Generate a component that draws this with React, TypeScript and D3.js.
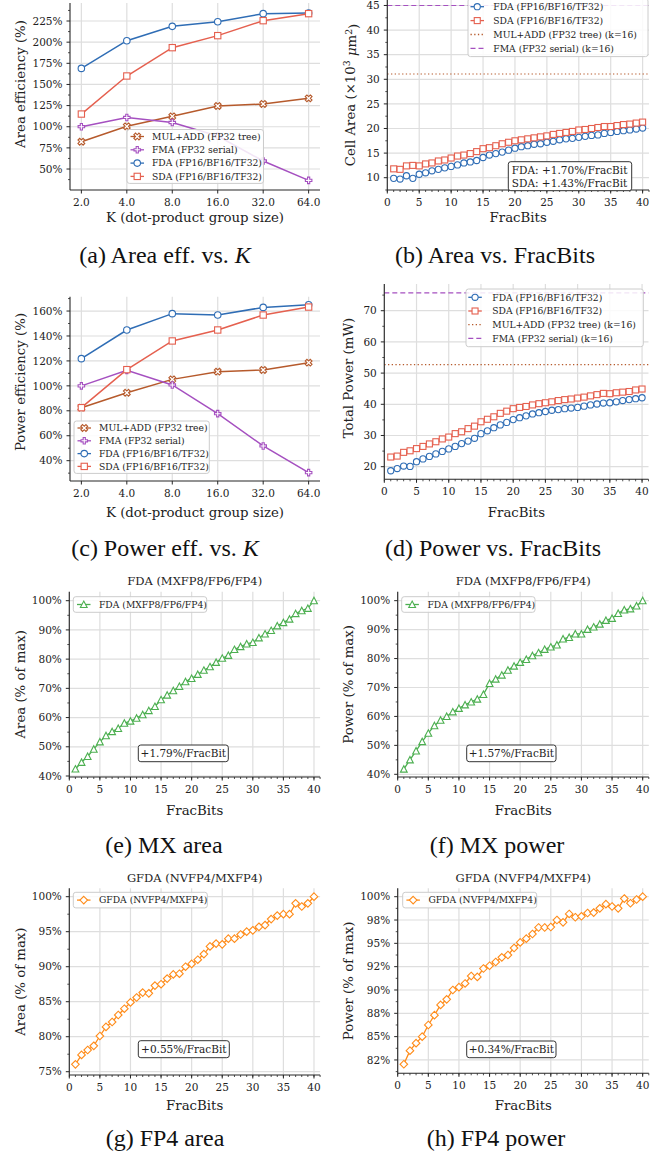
import React from "react";
import * as d3 from "d3";

// ---------------- DATA ----------------
const K_VALUES = [2, 4, 8, 16, 32, 64];
const K_TICK_LABELS = ["2.0", "4.0", "8.0", "16.0", "32.0", "64.0"];

const AREA_EFF_MULADD = [82.3, 100.5, 112.3, 124.5, 126.9, 133.6];
const AREA_EFF_FMA = [100, 111, 105, 89, 59.5, 36.6];
const AREA_EFF_FDA = [169, 201.7, 218.7, 224.2, 233.7, 234.5];
const AREA_EFF_SDA = [115, 160, 193.5, 207.7, 225.4, 233.7];

const POWER_EFF_MULADD = [82.5, 94.5, 105.2, 111.4, 112.7, 118.6];
const POWER_EFF_FMA = [100, 112.4, 100.7, 77.7, 51.8, 30.4];
const POWER_EFF_FDA = [121.8, 144.8, 157.9, 156.8, 162.9, 165.1];
const POWER_EFF_SDA = [82.5, 113, 136, 144.8, 156.8, 163.2];

const FRAC_BITS = [1, 2, 3, 4, 5, 6, 7, 8, 9, 10, 11, 12, 13, 14, 15, 16, 17, 18, 19, 20,
  21, 22, 23, 24, 25, 26, 27, 28, 29, 30, 31, 32, 33, 34, 35, 36, 37, 38, 39, 40];

const CELL_AREA_FDA = [9.87, 9.73, 10.4, 9.87, 10.7, 11.0, 11.4, 11.7, 12.0, 12.3, 12.6, 13.0, 13.2, 13.5,
  14.1, 14.6, 14.9, 15.2, 15.6, 16.0, 16.3, 16.5, 16.8, 16.9, 17.2, 17.4, 17.7, 17.9, 18.0, 18.2, 18.4,
  18.6, 18.7, 19.0, 19.2, 19.4, 19.55, 19.7, 19.9, 20.1];
const CELL_AREA_SDA = [11.8, 11.7, 12.4, 12.5, 12.4, 12.8, 13.0, 13.4, 13.6, 14.0, 14.4, 14.6, 14.9, 15.3,
  15.9, 16.1, 16.5, 16.9, 17.2, 17.5, 17.7, 17.9, 18.1, 18.3, 18.5, 18.8, 19.0, 19.2, 19.4, 19.7, 19.8,
  20.0, 20.2, 20.4, 20.4, 20.6, 20.8, 20.9, 21.1, 21.3];
const CELL_AREA_MULADD_K16 = 31.07;
const CELL_AREA_FMA_K16 = 45.0;

const POWER_FDA = [18.7, 19.4, 20.2, 20.1, 21.6, 22.5, 23.3, 24.1, 24.9, 25.7, 26.5, 27.4, 28.2, 29.1,
  30.6, 31.5, 32.5, 33.4, 34.2, 35.1, 35.7, 36.3, 36.9, 37.3, 37.7, 38.1, 38.3, 38.6, 38.8, 39.0, 39.4,
  39.8, 40.1, 40.4, 40.5, 40.8, 41.2, 41.5, 41.8, 42.1];
const POWER_SDA = [23.1, 23.4, 24.6, 25.1, 25.8, 26.5, 27.3, 28.0, 28.9, 29.5, 30.6, 31.2, 32.2, 33.0,
  34.4, 35.2, 36.0, 37.1, 37.8, 38.6, 39.0, 39.3, 39.8, 40.2, 40.5, 40.8, 41.2, 41.5, 41.7, 42.0, 42.3,
  42.7, 43.1, 43.5, 43.4, 43.7, 43.9, 44.1, 44.6, 44.9];
const POWER_MULADD_K16 = 52.7;
const POWER_FMA_K16 = 75.7;

const MX_AREA = [42.4, 44.7, 46.7, 49.2, 51.7, 53.8, 55.2, 56.3, 58.1, 58.8, 59.8, 61.0, 62.4, 63.8,
  66.1, 67.7, 69.2, 70.7, 72.3, 73.4, 74.8, 76.2, 77.4, 78.9, 80.3, 81.3, 83.3, 84.3, 85.2, 85.7, 87.3,
  88.6, 89.8, 91.4, 92.5, 93.7, 95.6, 96.6, 97.4, 100.0];
const MX_POWER = [41.8, 45.0, 48.1, 51.3, 54.2, 56.8, 58.7, 60.0, 61.6, 62.8, 64.0, 65.0, 66.0, 67.6,
  71.4, 72.9, 74.3, 76.0, 77.4, 78.7, 79.7, 81.0, 82.0, 83.2, 84.0, 84.7, 86.8, 87.3, 88.5, 88.5, 90.1,
  90.9, 91.9, 93.2, 93.9, 95.6, 96.8, 97.2, 98.2, 100.0];
const FP4_AREA = [76.05, 77.4, 78.1, 78.7, 80.1, 81.4, 82.1, 83.1, 84.0, 84.9, 85.6, 86.3, 86.2, 87.3,
  87.5, 88.3, 88.9, 89.0, 90.0, 90.4, 91.0, 91.8, 92.9, 93.3, 93.2, 94.0, 94.0, 94.6, 95.0, 95.2, 95.7,
  95.95, 96.8, 97.3, 97.5, 97.5, 99.05, 98.6, 99.05, 100];
const FP4_POWER = [82.04, 83.5, 84.3, 85.0, 86.25, 87.3, 88.4, 89.0, 90.0, 90.3, 90.7, 91.5, 91.4, 92.3,
  92.6, 93.0, 93.5, 93.75, 94.5, 95.1, 95.5, 96.0, 96.7, 96.7, 96.75, 97.5, 97.25, 98.15, 97.8, 97.9,
  98.25, 98.3, 98.75, 99.2, 98.95, 98.75, 99.8, 99.3, 99.7, 100];

const AREA_EFF_TICKS = [50, 75, 100, 125, 150, 175, 200, 225];
const POWER_EFF_TICKS = [40, 60, 80, 100, 120, 140, 160];
const CELL_AREA_TICKS = [10, 15, 20, 25, 30, 35, 40, 45];
const POWER_TICKS = [20, 30, 40, 50, 60, 70];
const FRAC_TICKS = [0, 5, 10, 15, 20, 25, 30, 35, 40];
const MX_TICKS = [40, 50, 60, 70, 80, 90, 100];
const FP4_AREA_TICKS = [75, 80, 85, 90, 95, 100];
const FP4_POWER_TICKS = [82.5, 85, 87.5, 90, 92.5, 95, 97.5, 100];
const FP4_POWER_TICK_LABELS = ["82%", "85%", "88%", "90%", "92%", "95%", "98%", "100%"];

// ---------------- STYLE ----------------
const FONT = "'DejaVu Serif', serif";
const CAPTION_FONT = "'Liberation Serif', 'Times New Roman', serif";
const C = {
  mulAdd: "#b65a2c",
  fma: "#a550c0",
  fda: "#2f6db5",
  sda: "#e5604f",
  mx: "#4caf50",
  fp4: "#ff8c1a",
};
const GRID = "#dedede";
const SPINE = "#262626";
const TICK_FS = 10.5;
const LABEL_FS = 13.3;
const LEGEND_FS = 9.2;
const CAPTION_FS = 24;

type MarkerShape = "circle" | "square" | "triangle" | "diamond" | "plus" | "xfill";

const PLUS_PTS = [[-1, -3], [1, -3], [1, -1], [3, -1], [3, 1], [1, 1], [1, 3], [-1, 3], [-1, 1], [-3, 1], [-3, -1], [-1, -1]];

function Marker({ shape, x, y, color, size }: { shape: MarkerShape; x: number; y: number; color: string; size: number }) {
  const sw = 1.1;
  const s = size / 2;
  if (shape === "circle") return <circle cx={x} cy={y} r={s} fill="white" stroke={color} strokeWidth={sw} />;
  if (shape === "square") return <rect x={x - s} y={y - s} width={size} height={size} fill="white" stroke={color} strokeWidth={sw} />;
  if (shape === "triangle") return <path d={`M${x},${y - s}L${x + s},${y + s * 0.9}L${x - s},${y + s * 0.9}Z`} fill="white" stroke={color} strokeWidth={sw} />;
  if (shape === "diamond") return <path d={`M${x},${y - s}L${x + s},${y}L${x},${y + s}L${x - s},${y}Z`} fill="white" stroke={color} strokeWidth={sw} />;
  const rot = shape === "xfill" ? Math.PI / 4 : 0;
  const k = shape === "xfill" ? 1.2 : 1;
  const pts = PLUS_PTS.map(([a, b]) => {
    const px = (a / 6) * size * k;
    const py = (b / 6) * size * k;
    return [x + px * Math.cos(rot) - py * Math.sin(rot), y + px * Math.sin(rot) + py * Math.cos(rot)];
  });
  return <path d={"M" + pts.map((p) => p.join(",")).join("L") + "Z"} fill="white" stroke={color} strokeWidth={sw} />;
}

type Series = { xs: number[]; ys: number[]; color: string; marker: MarkerShape; size: number; lw: number };
type LegendItem = { label: string; color: string; marker?: MarkerShape; size?: number; dash?: string };

type PanelCfg = {
  frame: { x0: number; x1: number; y0: number; y1: number };
  xScale: any;
  yScale: any;
  xTicks: number[];
  xTickLabels: string[];
  xMinor: number[];
  yTicks: number[];
  yTickLabels: string[];
  yMinor: number[];
  xLabel: string;
  yLabel: React.ReactNode;
  yLabelX: number;
  yLabelY?: number;
  xLabelY: number;
  title?: string;
  titleY?: number;
  series: Series[];
  refLines?: { y: number; color: string; dash: string }[];
  legend: { x: number; y: number; w: number; rowH: number; first: number; items: LegendItem[]; handleOff: number; textOff: number };
  note: { x: number; y: number; w: number; h: number; lines: string[]; align: "start" | "middle" };
  caption: React.ReactNode;
  captionX: number;
  captionY: number;
};

function Panel({ cfg }: { cfg: PanelCfg }) {
  const { frame, xScale, yScale } = cfg;
  const { x0, x1, y0, y1 } = frame;
  const line = (s: Series) =>
    d3.line<number>().x((_, i) => xScale(s.xs[i])).y((v) => yScale(v))(s.ys) || "";
  const lg = cfg.legend;
  const lgH = lg.first * 2 + lg.rowH * (lg.items.length - 1);
  const yLabelY = cfg.yLabelY ?? (y0 + y1) / 2;
  return (
    <g>
      {cfg.xTicks.map((t, i) => (
        <line key={"gx" + i} x1={xScale(t)} x2={xScale(t)} y1={y0} y2={y1} stroke={GRID} strokeWidth={1.2} />
      ))}
      {cfg.yTicks.map((t, i) => (
        <line key={"gy" + i} x1={x0} x2={x1} y1={yScale(t)} y2={yScale(t)} stroke={GRID} strokeWidth={1.2} />
      ))}
      {(cfg.refLines || []).map((r, i) => (
        <line key={"r" + i} x1={x0} x2={x1} y1={yScale(r.y)} y2={yScale(r.y)} stroke={r.color} strokeWidth={1.2} strokeDasharray={r.dash} />
      ))}
      {cfg.series.map((s, si) => (
        <g key={"s" + si}>
          <path d={line(s)} fill="none" stroke={s.color} strokeWidth={s.lw} />
          {s.ys.map((v, i) => (
            <Marker key={i} shape={s.marker} x={xScale(s.xs[i])} y={yScale(v)} color={s.color} size={s.size} />
          ))}
        </g>
      ))}
      <line x1={x0} x2={x0} y1={y0} y2={y1} stroke={SPINE} strokeWidth={1.1} />
      <line x1={x0} x2={x1} y1={y1} y2={y1} stroke={SPINE} strokeWidth={1.1} />
      {cfg.xTicks.map((t, i) => (
        <g key={"tx" + i}>
          <line x1={xScale(t)} x2={xScale(t)} y1={y1} y2={y1 + 3.5} stroke={SPINE} strokeWidth={1} />
          <text x={xScale(t)} y={y1 + 16} textAnchor="middle" fontSize={TICK_FS} fontFamily={FONT} fill="#222">
            {cfg.xTickLabels[i]}
          </text>
        </g>
      ))}
      {cfg.xMinor.map((t, i) => (
        <line key={"mx" + i} x1={xScale(t)} x2={xScale(t)} y1={y1} y2={y1 + 2} stroke={SPINE} strokeWidth={0.8} />
      ))}
      {cfg.yTicks.map((t, i) => (
        <g key={"ty" + i}>
          <line x1={x0 - 3.5} x2={x0} y1={yScale(t)} y2={yScale(t)} stroke={SPINE} strokeWidth={1} />
          <text x={x0 - 7.5} y={yScale(t)} dy="0.35em" textAnchor="end" fontSize={TICK_FS} fontFamily={FONT} fill="#222">
            {cfg.yTickLabels[i]}
          </text>
        </g>
      ))}
      {cfg.yMinor.map((t, i) => (
        <line key={"my" + i} x1={x0 - 2} x2={x0} y1={yScale(t)} y2={yScale(t)} stroke={SPINE} strokeWidth={0.8} />
      ))}
      <text x={(x0 + x1) / 2} y={cfg.xLabelY} dy="0.35em" textAnchor="middle" fontSize={LABEL_FS} fontFamily={FONT} fill="#222">
        {cfg.xLabel}
      </text>
      <text
        transform={`translate(${cfg.yLabelX},${yLabelY}) rotate(-90)`}
        dy="0.35em"
        textAnchor="middle"
        fontSize={LABEL_FS}
        fontFamily={FONT}
        fill="#222"
      >
        {cfg.yLabel}
      </text>
      {cfg.title && (
        <text x={(x0 + x1) / 2} y={cfg.titleY} dy="0.35em" textAnchor="middle" fontSize={11.5} fontFamily={FONT} fill="#222">
          {cfg.title}
        </text>
      )}
      <rect x={lg.x} y={lg.y} width={lg.w} height={lgH} rx={2.5} fill="white" fillOpacity={0.85} stroke="#cccccc" strokeWidth={1} />
      {lg.items.map((it, i) => {
        const yy = lg.y + lg.first + i * lg.rowH;
        const hx0 = lg.x + lg.handleOff;
        const hx1 = hx0 + 13.5;
        return (
          <g key={"lg" + i}>
            <line x1={hx0} x2={hx1} y1={yy} y2={yy} stroke={it.color} strokeWidth={1.3} strokeDasharray={it.dash} />
            {it.marker && <Marker shape={it.marker} x={(hx0 + hx1) / 2} y={yy} color={it.color} size={it.size || 6} />}
            <text x={lg.x + lg.textOff} y={yy} dy="0.35em" fontSize={LEGEND_FS} fontFamily={FONT} fill="#222">
              {it.label}
            </text>
          </g>
        );
      })}
      {cfg.note.lines.length > 0 && (
        <rect x={cfg.note.x} y={cfg.note.y} width={cfg.note.w} height={cfg.note.h} rx={2.5} fill="white" stroke="#333" strokeWidth={1} />
      )}
      {cfg.note.lines.map((l, i) => (
        <text
          key={"n" + i}
          x={cfg.note.align === "middle" ? cfg.note.x + cfg.note.w / 2 : cfg.note.x + 3.5}
          y={cfg.note.y + (cfg.note.lines.length === 1 ? cfg.note.h / 2 : 8.5 + i * 12.7)}
          dy="0.35em"
          textAnchor={cfg.note.align}
          fontSize={10.5}
          fontFamily={FONT}
          fill="#222"
        >
          {l}
        </text>
      ))}
      <text x={cfg.captionX} y={cfg.captionY} dy="0.35em" textAnchor="middle" fontSize={CAPTION_FS} fontFamily={CAPTION_FONT} fill="#111">
        {cfg.caption}
      </text>
    </g>
  );
}

const pct = (v: number) => `${v}%`;
const midpoints = (t: number[]) => {
  const out: number[] = [];
  for (let i = 0; i < t.length - 1; i++) out.push((t[i] + t[i + 1]) / 2);
  out.push(t[0] - (t[1] - t[0]) / 2);
  out.push(t[t.length - 1] + (t[1] - t[0]) / 2);
  return out;
};
const fracMinor = d3.range(0, 42, 1);

function makeLinX(x0: number, x1: number) {
  return d3.scaleLinear().domain([0, 41]).range([x0, x1]);
}
function makeY(domain: [number, number], y0: number, y1: number) {
  return d3.scaleLinear().domain(domain).range([y1, y0]);
}
function clipMinor(minor: number[], scale: any, y0: number, y1: number) {
  return minor.filter((m) => scale(m) >= y0 - 0.5 && scale(m) <= y1 + 0.5);
}

const NO_NOTE = { x: 0, y: 0, w: 0, h: 0, lines: [] as string[], align: "start" as const };

function buildPanels(): PanelCfg[] {
  const panels: PanelCfg[] = [];
  const effLegend = (x: number, y: number, w: number, rowH: number): PanelCfg["legend"] => ({
    x, y, w, rowH, first: 7, handleOff: 3.5, textOff: 25,
    items: [
      { label: "MUL+ADD (FP32 tree)", color: C.mulAdd, marker: "xfill", size: 6 },
      { label: "FMA (FP32 serial)", color: C.fma, marker: "plus", size: 6.5 },
      { label: "FDA (FP16/BF16/TF32)", color: C.fda, marker: "circle", size: 6.5 },
      { label: "SDA (FP16/BF16/TF32)", color: C.sda, marker: "square", size: 6.3 },
    ],
  });
  const effSeries = (a: number[], b: number[], c: number[], d: number[]): Series[] => [
    { xs: K_VALUES, ys: a, color: C.mulAdd, marker: "xfill", size: 6, lw: 1.5 },
    { xs: K_VALUES, ys: b, color: C.fma, marker: "plus", size: 6.5, lw: 1.5 },
    { xs: K_VALUES, ys: c, color: C.fda, marker: "circle", size: 6.5, lw: 1.5 },
    { xs: K_VALUES, ys: d, color: C.sda, marker: "square", size: 6.3, lw: 1.5 },
  ];

  // (a)
  {
    const frame = { x0: 70, x1: 320, y0: 3, y1: 190 };
    const xs = d3.scaleLog().base(2).domain([2 ** 0.75, 2 ** 6.25]).range([frame.x0, frame.x1]);
    const ys = makeY([25.2, 246.3], frame.y0, frame.y1);
    panels.push({
      frame, xScale: xs, yScale: ys,
      xTicks: K_VALUES, xTickLabels: K_TICK_LABELS, xMinor: [],
      yTicks: AREA_EFF_TICKS, yTickLabels: AREA_EFF_TICKS.map(pct), yMinor: clipMinor(midpoints(AREA_EFF_TICKS), ys, frame.y0, frame.y1),
      xLabel: "K (dot-product group size)", yLabel: "Area efficiency (%)", yLabelX: 20, yLabelY: 84, xLabelY: 217,
      series: effSeries(AREA_EFF_MULADD, AREA_EFF_FMA, AREA_EFF_FDA, AREA_EFF_SDA),
      legend: effLegend(127, 129.5, 136.5, 13.3),
      note: NO_NOTE,
      caption: <>(a) Area eff. vs. <tspan fontStyle="italic">K</tspan></>, captionX: 165, captionY: 255,
    });
  }
  // (b)
  {
    const frame = { x0: 387.3, x1: 649, y0: -5, y1: 190 };
    const xs = makeLinX(frame.x0, frame.x1);
    const ys = makeY([7.5, 47.13], frame.y0, frame.y1);
    panels.push({
      frame, xScale: xs, yScale: ys,
      xTicks: FRAC_TICKS, xTickLabels: FRAC_TICKS.map(String), xMinor: fracMinor,
      yTicks: CELL_AREA_TICKS, yTickLabels: CELL_AREA_TICKS.map(String), yMinor: clipMinor(midpoints(CELL_AREA_TICKS), ys, frame.y0, frame.y1),
      xLabel: "FracBits",
      yLabel: <>Cell Area (×10<tspan dy="-0.45em" fontSize="70%">3</tspan><tspan dy="0.45em"> </tspan><tspan fontStyle="italic">μ</tspan>m<tspan dy="-0.45em" fontSize="70%">2</tspan><tspan dy="0.45em">)</tspan></>,
      yLabelX: 350, yLabelY: 95, xLabelY: 217,
      series: [
        { xs: FRAC_BITS, ys: CELL_AREA_FDA, color: C.fda, marker: "circle", size: 6.2, lw: 1.2 },
        { xs: FRAC_BITS, ys: CELL_AREA_SDA, color: C.sda, marker: "square", size: 6.0, lw: 1.2 },
      ],
      refLines: [
        { y: CELL_AREA_MULADD_K16, color: C.mulAdd, dash: "1.3,2.4" },
        { y: CELL_AREA_FMA_K16, color: C.fma, dash: "5,3" },
      ],
      legend: {
        x: 468, y: -1.5, w: 180, rowH: 13.9, first: 8.2, handleOff: 2.5, textOff: 25.3,
        items: [
          { label: "FDA (FP16/BF16/TF32)", color: C.fda, marker: "circle", size: 6.2 },
          { label: "SDA (FP16/BF16/TF32)", color: C.sda, marker: "square", size: 6.0 },
          { label: "MUL+ADD (FP32 tree) (k=16)", color: C.mulAdd, dash: "1.3,2.4" },
          { label: "FMA (FP32 serial) (k=16)", color: C.fma, dash: "5,3" },
        ],
      },
      note: { x: 508.3, y: 161.7, w: 123.4, h: 29, lines: ["FDA: +1.70%/FracBit", "SDA: +1.43%/FracBit"], align: "start" },
      caption: "(b) Area vs. FracBits", captionX: 495, captionY: 255,
    });
  }
  // (c)
  {
    const frame = { x0: 70, x1: 320, y0: 296.7, y1: 481 };
    const xs = d3.scaleLog().base(2).domain([2 ** 0.75, 2 ** 6.25]).range([frame.x0, frame.x1]);
    const ys = makeY([23.7, 171.5], frame.y0, frame.y1);
    panels.push({
      frame, xScale: xs, yScale: ys,
      xTicks: K_VALUES, xTickLabels: K_TICK_LABELS, xMinor: [],
      yTicks: POWER_EFF_TICKS, yTickLabels: POWER_EFF_TICKS.map(pct), yMinor: clipMinor(midpoints(POWER_EFF_TICKS), ys, frame.y0, frame.y1),
      xLabel: "K (dot-product group size)", yLabel: "Power efficiency (%)", yLabelX: 20, yLabelY: 382, xLabelY: 512,
      series: effSeries(POWER_EFF_MULADD, POWER_EFF_FMA, POWER_EFF_FDA, POWER_EFF_SDA),
      legend: effLegend(74, 421, 135.3, 12.8),
      note: NO_NOTE,
      caption: <>(c) Power eff. vs. <tspan fontStyle="italic">K</tspan></>, captionX: 165, captionY: 548,
    });
  }
  // (d)
  {
    const frame = { x0: 384.3, x1: 648.5, y0: 284, y1: 479.3 };
    const xs = makeLinX(frame.x0, frame.x1);
    const ys = makeY([15.96, 78.56], frame.y0, frame.y1);
    panels.push({
      frame, xScale: xs, yScale: ys,
      xTicks: FRAC_TICKS, xTickLabels: FRAC_TICKS.map(String), xMinor: fracMinor,
      yTicks: POWER_TICKS, yTickLabels: POWER_TICKS.map(String), yMinor: clipMinor(midpoints(POWER_TICKS), ys, frame.y0, frame.y1),
      xLabel: "FracBits", yLabel: "Total Power (mW)", yLabelX: 348, yLabelY: 378, xLabelY: 512,
      series: [
        { xs: FRAC_BITS, ys: POWER_FDA, color: C.fda, marker: "circle", size: 6.2, lw: 1.2 },
        { xs: FRAC_BITS, ys: POWER_SDA, color: C.sda, marker: "square", size: 6.0, lw: 1.2 },
      ],
      refLines: [
        { y: POWER_MULADD_K16, color: C.mulAdd, dash: "1.3,2.4" },
        { y: POWER_FMA_K16, color: C.fma, dash: "5,3" },
      ],
      legend: {
        x: 466, y: 289, w: 177.3, rowH: 13.7, first: 8.3, handleOff: 2.3, textOff: 26.3,
        items: [
          { label: "FDA (FP16/BF16/TF32)", color: C.fda, marker: "circle", size: 6.2 },
          { label: "SDA (FP16/BF16/TF32)", color: C.sda, marker: "square", size: 6.0 },
          { label: "MUL+ADD (FP32 tree) (k=16)", color: C.mulAdd, dash: "1.3,2.4" },
          { label: "FMA (FP32 serial) (k=16)", color: C.fma, dash: "5,3" },
        ],
      },
      note: NO_NOTE,
      caption: "(d) Power vs. FracBits", captionX: 493, captionY: 548,
    });
  }
  // (e)-(h)
  const fracPanel = (
    frame: { x0: number; x1: number; y0: number; y1: number },
    dom: [number, number], ticks: number[], tickLabels: string[], ys: number[],
    color: string, marker: MarkerShape, size: number, label: string, title: string, yLabel: string,
    yLabelX: number, xLabelY: number, titleY: number, legX: number, legW: number, legY: number,
    note: PanelCfg["note"], caption: string, capX: number, capY: number
  ): PanelCfg => {
    const xs = makeLinX(frame.x0, frame.x1);
    const yS = makeY(dom, frame.y0, frame.y1);
    return {
      frame, xScale: xs, yScale: yS,
      xTicks: FRAC_TICKS, xTickLabels: FRAC_TICKS.map(String), xMinor: fracMinor,
      yTicks: ticks, yTickLabels: tickLabels, yMinor: clipMinor(midpoints(ticks), yS, frame.y0, frame.y1),
      xLabel: "FracBits", yLabel, yLabelX, xLabelY, title, titleY,
      series: [{ xs: FRAC_BITS, ys, color, marker, size, lw: 1.3 }],
      legend: { x: legX, y: legY, w: legW, rowH: 13, first: 7.8, handleOff: 3.7, textOff: 25.7, items: [{ label, color, marker, size }] },
      note, caption, captionX: capX, captionY: capY,
    };
  };
  panels.push(fracPanel({ x0: 69.3, x1: 320.1, y0: 591.7, y1: 777 }, [39.66, 103.08], MX_TICKS, MX_TICKS.map(pct), MX_AREA,
    C.mx, "triangle", 6.8, "FDA (MXFP8/FP6/FP4)", "FDA (MXFP8/FP6/FP4)", "Area (% of max)", 20, 810, 581, 73.3, 133.4, 596.7,
    { x: 138.3, y: 745, w: 90, h: 16.7, lines: ["+1.79%/FracBit"], align: "middle" }, "(e) MX area", 164, 845));
  panels.push(fracPanel({ x0: 397.7, x1: 648.8, y0: 591.7, y1: 777 }, [39.07, 103.1], MX_TICKS, MX_TICKS.map(pct), MX_POWER,
    C.mx, "triangle", 6.8, "FDA (MXFP8/FP6/FP4)", "FDA (MXFP8/FP6/FP4)", "Power (% of max)", 348, 810, 581, 401.7, 133.3, 596.7,
    { x: 466.7, y: 745, w: 89.3, h: 16.7, lines: ["+1.57%/FracBit"], align: "middle" }, "(f) MX power", 497, 845));
  panels.push(fracPanel({ x0: 69.3, x1: 320.1, y0: 888.3, y1: 1075 }, [74.53, 101.2], FP4_AREA_TICKS, FP4_AREA_TICKS.map(pct), FP4_AREA,
    C.fp4, "diamond", 7.6, "GFDA (NVFP4/MXFP4)", "GFDA (NVFP4/MXFP4)", "Area (% of max)", 20, 1105, 877.7, 73.3, 134, 892.3,
    { x: 138.3, y: 1040.7, w: 91, h: 17, lines: ["+0.55%/FracBit"], align: "middle" }, "(g) FP4 area", 165, 1138));
  panels.push(fracPanel({ x0: 397.7, x1: 648.8, y0: 888.3, y1: 1073.3 }, [81.07, 100.9], FP4_POWER_TICKS, FP4_POWER_TICK_LABELS, FP4_POWER,
    C.fp4, "diamond", 7.6, "GFDA (NVFP4/MXFP4)", "GFDA (NVFP4/MXFP4)", "Power (% of max)", 348, 1105, 877.7, 402.7, 134, 892.3,
    { x: 466.7, y: 1041, w: 89.3, h: 16.7, lines: ["+0.34%/FracBit"], align: "middle" }, "(h) FP4 power", 496, 1138));
  return panels;
}

export default function App() {
  const panels = buildPanels();
  return (
    <svg width={661} height={1154} style={{ position: "absolute", left: 0, top: 0, background: "white" }}>
      <rect x={0} y={0} width={661} height={1154} fill="white" />
      {panels.map((p, i) => (
        <Panel key={i} cfg={p} />
      ))}
    </svg>
  );
}
